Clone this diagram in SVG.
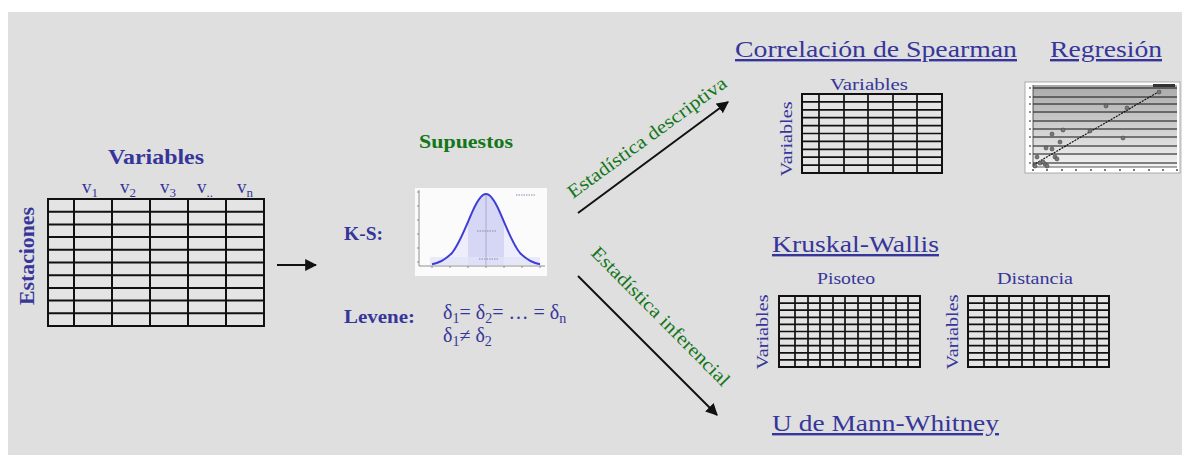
<svg xmlns="http://www.w3.org/2000/svg" width="1182" height="455" viewBox="0 0 1182 455">
<defs>
<style>
.bl{fill:#36369a;font-family:"Liberation Serif","Times New Roman",serif}
.gr{fill:#13761a;font-family:"Liberation Serif","Times New Roman",serif}
.b{font-weight:bold}
.tbl{fill:#e4e4e4;stroke:#111;stroke-width:2}
.grid{fill:none;stroke:#111;stroke-width:2}
.sgrid{fill:none;stroke:#111;stroke-width:1.7}
.conn{stroke:#111;stroke-width:2;fill:none}
</style>
<marker id="ah" viewBox="0 0 10 10" refX="9" refY="5" markerWidth="6" markerHeight="6" markerUnits="strokeWidth" orient="auto">
<path d="M0,0 L10,5 L0,10 z" fill="#111"/>
</marker>
<linearGradient id="rg" x1="0" y1="0" x2="0" y2="1">
<stop offset="0" stop-color="#a9a9a9"/>
<stop offset="1" stop-color="#f2f2f2"/>
</linearGradient>
</defs>
<rect x="0" y="0" width="1182" height="455" fill="#fff"/>
<rect x="8" y="12" width="1174" height="443" fill="#dfdfdf"/>

<g id="datos">
<text class="bl b" x="108" y="164" font-size="21" textLength="96" lengthAdjust="spacingAndGlyphs">Variables</text>
<text class="bl" font-size="19" y="193"><tspan x="82">v</tspan><tspan font-size="13" dy="4">1</tspan></text>
<text class="bl" font-size="19" y="193"><tspan x="120">v</tspan><tspan font-size="13" dy="4">2</tspan></text>
<text class="bl" font-size="19" y="193"><tspan x="160">v</tspan><tspan font-size="13" dy="4">3</tspan></text>
<text class="bl" font-size="19" y="193"><tspan x="197">v</tspan><tspan font-size="13" dy="4">..</tspan></text>
<text class="bl" font-size="19" y="193"><tspan x="237">v</tspan><tspan font-size="13" dy="4">n</tspan></text>
<text class="bl b" font-size="21" transform="translate(34,256) rotate(-90)" text-anchor="middle" textLength="98" lengthAdjust="spacingAndGlyphs">Estaciones</text>
<rect class="tbl" x="48" y="199" width="216" height="127"/>
<path class="grid" d="M48,211.7H264M48,224.4H264M48,237.1H264M48,249.8H264M48,262.5H264M48,275.2H264M48,287.9H264M48,300.6H264M48,313.3H264M74,199V326M112,199V326M150,199V326M188,199V326M226,199V326"/>
</g>

<g id="supuestos">
<text class="gr b" x="419" y="148" font-size="18" textLength="94" lengthAdjust="spacingAndGlyphs">Supuestos</text>
<text class="bl b" x="344" y="240" font-size="19" textLength="39" lengthAdjust="spacingAndGlyphs">K-S:</text>
<text class="bl b" x="344" y="323" font-size="19" textLength="71" lengthAdjust="spacingAndGlyphs">Levene:</text>
<text class="bl" font-size="20" y="319"><tspan x="443">δ</tspan><tspan font-size="14" dy="4">1</tspan><tspan dy="-4">= δ</tspan><tspan font-size="14" dy="4">2</tspan><tspan dy="-4">= … = δ</tspan><tspan font-size="14" dy="4">n</tspan></text>
<text class="bl" font-size="20" y="342"><tspan x="443">δ</tspan><tspan font-size="14" dy="4">1</tspan><tspan dy="-4">≠ δ</tspan><tspan font-size="14" dy="4">2</tspan></text>
<g id="normal">
<rect x="415" y="188" width="132" height="88" fill="#fbfbfb"/>
<path d="M432,264.2 L436.5,263.4 441,261.9 445.5,259.3 450,255.4 454.5,249.6 459,241.9 463.5,232.5 468,221.9 472.5,211.4 477,202.3 481.5,196.2 486,194 490.5,196.2 495,202.3 499.5,211.4 504,221.9 508.5,232.5 513,241.9 517.5,249.6 522,255.4 526.5,259.3 531,261.9 535.5,263.4 540,264.2 V265 H432 Z" fill="#ededfb"/>
<path d="M468,221.9 L472.5,211.4 477,202.3 481.5,196.2 486,194 490.5,196.2 495,202.3 499.5,211.4 504,221.9 V265 H468 Z" fill="#d6d6f5"/>
<rect x="430" y="257" width="110" height="8" fill="#e2e2f8" opacity="0.7"/>
<line x1="486" y1="194" x2="486" y2="265" stroke="#9a9ac8" stroke-width="0.7"/>
<path d="M419,190 V266 H545" fill="none" stroke="#777" stroke-width="0.8"/>
<path d="M417,192H419M417,206H419M417,220H419M417,234H419M417,248H419M417,262H419M432,266V268M450,266V268M468,266V268M486,266V268M504,266V268M522,266V268M540,266V268" stroke="#777" stroke-width="0.8"/>
<path d="M432,264.2 C440,263 446,259 452,253 C460,243 466,226 472.5,211.4 C478,199 482,194 486,194 C490,194 494,199 499.5,211.4 C506,226 512,243 520,253 C526,259 532,263 540,264.2" fill="none" stroke="#3d3dd8" stroke-width="2"/>
<line x1="477" y1="231" x2="496" y2="231" stroke="#8a8aa8" stroke-width="1.2" stroke-dasharray="1.5,1"/>
<line x1="479" y1="259" x2="499" y2="259" stroke="#8a8aa8" stroke-width="1.2" stroke-dasharray="1.5,1"/>
<line x1="516" y1="195" x2="535" y2="195" stroke="#8a8aa8" stroke-width="1.2" stroke-dasharray="1.5,1"/>
</g>
</g>

<g id="spearman">
<text class="bl" x="735" y="57" font-size="24" text-decoration="underline" textLength="282" lengthAdjust="spacingAndGlyphs">Correlación de Spearman</text>
<text class="bl" x="830" y="90" font-size="16" textLength="78" lengthAdjust="spacingAndGlyphs">Variables</text>
<text class="bl" font-size="16" transform="translate(792,139) rotate(-90)" text-anchor="middle" textLength="75" lengthAdjust="spacingAndGlyphs">Variables</text>
<rect class="tbl" x="802" y="94" width="140" height="79"/>
<path class="sgrid" d="M802,101.9H942M802,109.8H942M802,117.7H942M802,125.6H942M802,133.5H942M802,141.4H942M802,149.3H942M802,157.2H942M802,165.1H942M819,94V173M844,94V173M868,94V173M893,94V173M917,94V173"/>
</g>

<g id="regresion">
<text class="bl" x="1050" y="57" font-size="24" text-decoration="underline" textLength="112" lengthAdjust="spacingAndGlyphs">Regresión</text>
<rect x="1025" y="82" width="155" height="91" fill="#fff" stroke="#999" stroke-width="0.8"/>
<rect x="1033" y="85" width="144" height="82" fill="url(#rg)"/>
<path d="M1033,88H1177M1033,97H1177M1033,104H1177M1033,112H1177M1033,121H1177M1033,129H1177M1033,137H1177M1033,146H1177M1033,154H1177M1033,163H1177" stroke="#111" stroke-width="1"/>
<path d="M1033,85V167H1177" fill="none" stroke="#333" stroke-width="0.8"/>
<path d="M1029,88h2M1029,97h2M1029,104h2M1029,112h2M1029,121h2M1029,129h2M1029,137h2M1029,146h2M1029,154h2M1029,163h2M1033,169v2M1047,169v2M1062,169v2M1076,169v2M1091,169v2M1105,169v2M1120,169v2M1134,169v2M1149,169v2M1163,169v2M1177,169v2" stroke="#222" stroke-width="1.2"/>
<line x1="1033" y1="165" x2="1160" y2="91" stroke="#111" stroke-width="1.2" stroke-dasharray="2,1"/>
<g fill="#777" stroke="#444" stroke-width="0.6">
<circle cx="1159" cy="92" r="2"/><circle cx="1106" cy="106" r="2"/><circle cx="1127" cy="108" r="2"/><circle cx="1063" cy="130" r="2"/><circle cx="1090" cy="131" r="2"/><circle cx="1052" cy="134" r="2"/><circle cx="1123" cy="138" r="2"/><circle cx="1060" cy="142" r="2"/><circle cx="1046" cy="148" r="2"/><circle cx="1052" cy="149" r="2"/><circle cx="1055" cy="157" r="2"/><circle cx="1057" cy="159" r="2"/><circle cx="1037" cy="157" r="2"/><circle cx="1040" cy="163" r="2"/><circle cx="1045" cy="164" r="2"/><circle cx="1047" cy="166" r="2"/><circle cx="1035" cy="166" r="2"/><circle cx="1043" cy="162" r="2"/>
</g>
<rect x="1153" y="84" width="22" height="3" fill="#333"/>
</g>

<g id="kruskal">
<text class="bl" x="772" y="252" font-size="24" text-decoration="underline" textLength="167" lengthAdjust="spacingAndGlyphs">Kruskal-Wallis</text>
<text class="bl" x="817" y="284" font-size="16" textLength="58" lengthAdjust="spacingAndGlyphs">Pisoteo</text>
<text class="bl" x="997" y="284" font-size="16" textLength="76" lengthAdjust="spacingAndGlyphs">Distancia</text>
<text class="bl" font-size="16" transform="translate(768,332) rotate(-90)" text-anchor="middle" textLength="75" lengthAdjust="spacingAndGlyphs">Variables</text>
<text class="bl" font-size="16" transform="translate(958,332) rotate(-90)" text-anchor="middle" textLength="75" lengthAdjust="spacingAndGlyphs">Variables</text>
<rect class="tbl" x="779" y="296" width="141" height="71"/>
<path class="sgrid" d="M779,303.1H920M779,310.2H920M779,317.3H920M779,324.4H920M779,331.5H920M779,338.6H920M779,345.7H920M779,352.8H920M779,359.9H920M795,296V367M808,296V367M820,296V367M833,296V367M845,296V367M858,296V367M871,296V367M883,296V367M896,296V367M908,296V367"/>
<rect class="tbl" x="968" y="296" width="141" height="71"/>
<path class="sgrid" d="M968,303.1H1109M968,310.2H1109M968,317.3H1109M968,324.4H1109M968,331.5H1109M968,338.6H1109M968,345.7H1109M968,352.8H1109M968,359.9H1109M984,296V367M997,296V367M1009,296V367M1022,296V367M1034,296V367M1047,296V367M1059,296V367M1072,296V367M1084,296V367M1097,296V367"/>
</g>

<g id="mannwhitney">
<text class="bl" x="772" y="431" font-size="24" text-decoration="underline" textLength="227" lengthAdjust="spacingAndGlyphs">U de Mann-Whitney</text>
</g>

<g id="connectors">
<line class="conn" x1="277" y1="265" x2="316" y2="265" marker-end="url(#ah)"/>
<line class="conn" x1="578" y1="213" x2="728" y2="102" marker-end="url(#ah)"/>
<line class="conn" x1="578" y1="276" x2="717" y2="415" marker-end="url(#ah)"/>
<text class="gr" font-size="19" transform="translate(573,199) rotate(-36.1)" textLength="192" lengthAdjust="spacingAndGlyphs">Estadística descriptiva</text>
<text class="gr" font-size="19" transform="translate(590,254) rotate(45.2)" textLength="188" lengthAdjust="spacingAndGlyphs">Estadística inferencial</text>
</g>
</svg>
